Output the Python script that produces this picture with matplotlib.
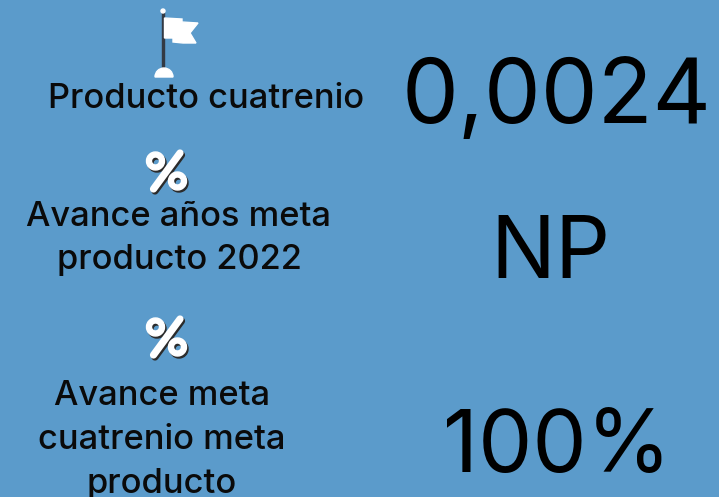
import matplotlib
matplotlib.use("Agg")
import matplotlib.pyplot as plt
from matplotlib.patches import Polygon, Wedge, Rectangle, Circle
from matplotlib.lines import Line2D

W, H = 719, 497
BG = "#5b9bcb"
labels = ["Producto cuatrenio", "Avance años meta\nproducto 2022", "Avance meta\ncuatrenio meta\nproducto"]
values = ["0,0024", "NP", "100%"]

fig = plt.figure(figsize=(W/100, H/100), dpi=100, facecolor=BG)
ax = fig.add_axes([0, 0, 1, 1])
ax.set_xlim(0, W); ax.set_ylim(H, 0); ax.axis("off")
FONT = ["Inter", "DejaVu Sans"]

label_y = [[108], [226, 269], [405, 449, 493]]
label_x = [206, 179, 162]
for t, ys, x in zip(labels, label_y, label_x):
    for line, y in zip(t.split("\n"), ys):
        ax.text(x, y, line, ha="center", va="baseline", fontsize=24.8, family=FONT, color="#0a0a0a", fontweight=500)

for v, x, y, fs in zip(values, [557, 550, 557], [123, 278, 472], [65, 62, 62]):
    ax.text(x, y, v, ha="center", va="baseline", fontsize=fs, family=FONT, color="black")

def percent(dy):
    for (ox, oy), col, z in [((1.5, 2), "#2b2b2b", 2), ((0, 0), "white", 3)]:
        ax.add_line(Line2D([180+ox, 153.5+ox], [153+dy+oy, 189+dy+oy], color=col, lw=5.2, solid_capstyle="round", zorder=z))
        for cx, cy in [(155.5, 161), (177.5, 181)]:
            ax.add_patch(Wedge((cx+ox, cy+dy+oy), 9, 0, 360, width=5, color=col, zorder=z))

for dy in [0, 166]:
    percent(dy)

ax.add_patch(Rectangle((162, 12), 2, 57, color="#333a44"))
ax.add_patch(Circle((163, 11), 2, color="white"))
ax.add_patch(Wedge((164, 77), 9, 180, 360, color="white"))
ax.add_patch(Polygon([(164.5,18),(182,19),(182,22),(198,23),(190,33),(196,43),(183,43),(173,42),(173,38),(164.5,38)], color="white"))
fig.savefig("out.png", dpi=100, facecolor=BG)
